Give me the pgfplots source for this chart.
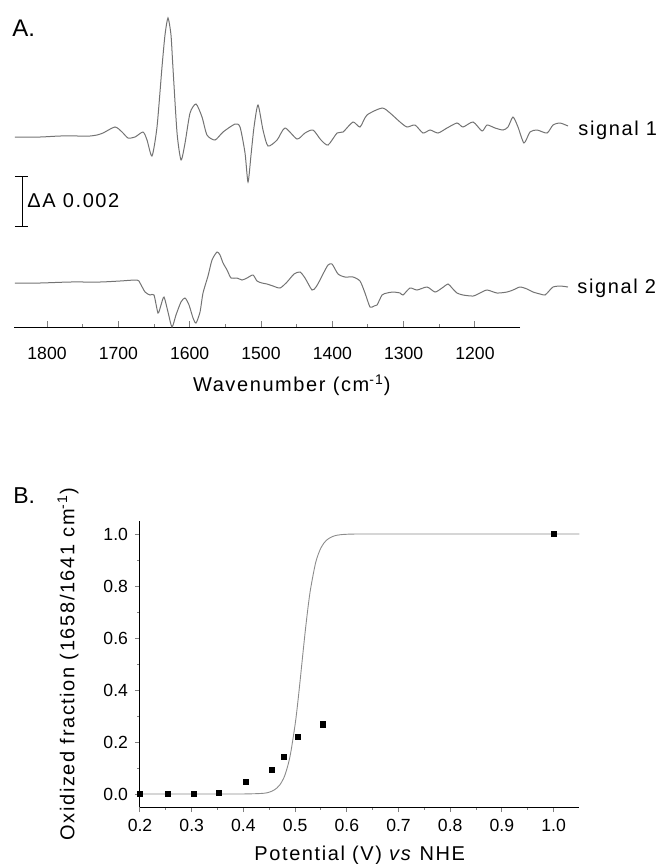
\documentclass[border=0pt]{standalone}
\usepackage{fontspec}
\setmainfont{Liberation Sans}
\newfontfamily\labelfont[LetterSpace=8]{Liberation Sans}
\usepackage{pgfplots}
\pgfplotsset{compat=1.18}
\usepackage{pgfplotstable}

% difference spectra: wavenumber, dA (units of 1e-3)
\pgfplotstableread{
wn dA
1844.9 0.00
1809.8 0.00
1781.8 0.04
1753.7 0.04
1739.7 0.04
1730.0 0.08
1721.5 0.16
1704.7 0.40
1694.8 0.20
1686.4 -0.04
1676.6 0.00
1665.4 0.20
1659.8 -0.12
1652.8 -0.76
1645.8 0.40
1638.8 2.80
1634.6 4.08
1630.4 4.76
1626.2 4.08
1623.5 2.80
1617.7 0.16
1612.1 -0.92
1606.5 -0.24
1599.5 0.96
1591.1 1.32
1582.7 0.80
1575.7 0.08
1564.5 -0.12
1553.2 0.20
1536.4 0.52
1529.4 0.40
1522.4 -0.64
1518.2 -1.80
1514.0 -0.72
1509.8 0.40
1504.2 1.28
1497.2 0.28
1490.2 -0.36
1477.5 -0.12
1466.3 0.36
1449.5 -0.08
1438.3 0.16
1427.1 0.28
1415.9 -0.12
1406.0 -0.32
1393.4 0.16
1385.0 0.20
1371.0 0.60
1361.2 0.40
1351.4 0.88
1330.3 1.16
1319.1 0.96
1305.1 0.60
1295.3 0.40
1284.1 0.48
1272.9 0.16
1263.0 0.28
1251.8 0.16
1239.2 0.36
1225.2 0.56
1216.8 0.40
1202.7 0.60
1190.1 0.24
1183.1 0.48
1171.9 0.36
1160.7 0.28
1153.7 0.40
1146.7 0.80
1139.7 0.40
1131.3 -0.24
1122.9 0.20
1113.0 0.28
1099.0 0.16
1090.6 0.48
1080.8 0.56
1069.6 0.44
}\sigone

\pgfplotstableread{
wn dA
1844.9 0.00
1809.8 0.00
1767.8 0.04
1725.7 0.04
1697.7 0.08
1673.8 0.12
1669.6 0.00
1662.6 -0.36
1655.6 -0.48
1650.0 -0.48
1644.4 -1.20
1640.2 -0.88
1636.0 -0.56
1630.4 -1.16
1624.8 -1.76
1619.2 -1.28
1612.2 -0.76
1606.5 -0.60
1600.9 -0.88
1595.3 -1.40
1591.1 -1.60
1585.5 -1.16
1581.3 -0.40
1574.3 0.28
1568.7 0.92
1561.7 1.24
1557.5 1.12
1553.2 0.80
1547.6 0.52
1542.0 0.20
1533.6 0.20
1526.6 0.12
1519.6 0.20
1511.2 0.32
1505.6 0.08
1498.6 0.00
1491.6 -0.04
1483.1 -0.12
1473.3 -0.20
1463.5 0.04
1453.7 0.36
1445.3 0.44
1438.3 0.20
1428.5 -0.28
1422.9 -0.16
1417.3 0.12
1411.6 0.44
1406.0 0.72
1400.4 0.76
1392.0 0.36
1382.2 0.24
1371.0 0.24
1361.2 0.08
1354.2 -0.40
1347.2 -0.96
1341.5 -0.92
1337.3 -0.88
1330.3 -0.48
1323.3 -0.40
1314.9 -0.36
1305.1 -0.40
1300.9 -0.48
1291.1 -0.20
1281.3 -0.28
1267.2 -0.16
1256.0 -0.36
1246.2 -0.20
1237.8 -0.04
1232.2 -0.20
1225.2 -0.40
1216.8 -0.48
1202.7 -0.52
1192.9 -0.40
1183.1 -0.28
1169.1 -0.40
1155.1 -0.36
1146.7 -0.28
1136.9 -0.16
1127.0 -0.24
1118.6 -0.36
1108.8 -0.44
1101.8 -0.48
1096.2 -0.32
1090.6 -0.16
1080.8 -0.12
1069.6 -0.16
}\sigtwo

\begin{document}
\begin{tikzpicture}[x=1pt,y=1pt]
\path[use as bounding box] (0,0) rectangle (329.5,-432);

% panel A
\node[anchor=north west, inner sep=0pt, font=\fontsize{12}{14}\selectfont] at (6,-10) {A.};
\begin{axis}[
    at={(7pt,-163.5pt)}, anchor=south west,
    scale only axis, width=253pt, height=161pt,
    xmin=1136.9, xmax=1846.3, x dir=reverse,
    ymin=0, ymax=12.88,
    axis x line=bottom, axis y line=none,
    axis line style={-, line width=0.5pt},
    clip=false,
    xtick={1200,1300,1400,1500,1600,1700,1800},
    minor x tick num=1,
    tick align=inside,
    major tick length=3pt, minor tick length=1.5pt,
    tick style={line width=0.5pt},
    /pgf/number format/assume math mode=true,
    /pgf/number format/set thousands separator={},
    xticklabel style={font=\fontsize{8.8}{10}\selectfont, yshift=-6.5pt},
    xlabel={\labelfont Wavenumber (cm\textsuperscript{-1})},
    xlabel style={at={(axis description cs:0.549,-0.18)}, anchor=center, font=\fontsize{10}{12}\selectfont},
]
\addplot[black!55, line width=0.5pt, smooth, tension=0.4] table[x=wn, y expr=\thisrow{dA}+7.6] {\sigone};
\addplot[black!55, line width=0.5pt, smooth, tension=0.4] table[x=wn, y expr=\thisrow{dA}+1.76] {\sigtwo};
% scale bar
\draw[line width=0.5pt] (axis cs:1835,4.04) -- (axis cs:1835,6.04);
\draw[line width=0.5pt] (axis cs:1844.9,4.04) -- (axis cs:1826.6,4.04);
\draw[line width=0.5pt] (axis cs:1844.9,6.04) -- (axis cs:1826.6,6.04);
\node[anchor=base west, inner sep=0pt, font=\fontsize{10}{12}\selectfont\labelfont] at (axis cs:1828,4.8) {ΔA 0.002};
\node[anchor=base west, inner sep=0pt, font=\fontsize{10}{12}\selectfont\labelfont] at (axis cs:1055.5,7.68) {signal 1};
\node[anchor=base west, inner sep=0pt, font=\fontsize{10}{12}\selectfont\labelfont] at (axis cs:1056.9,1.36) {signal 2};
\end{axis}

% panel B
\node[anchor=north west, inner sep=0pt, font=\fontsize{11.5}{14}\selectfont] at (6.5,-243.5) {B.};
\begin{axis}[
    at={(70pt,-403.5pt)}, anchor=south west,
    scale only axis, width=219.75pt, height=143pt,
    xmin=0.2, xmax=1.05, ymin=-0.05, ymax=1.05,
    axis x line=bottom, axis y line=left,
    axis line style={-, line width=0.5pt},
    xtick={0.2,0.3,0.4,0.5,0.6,0.7,0.8,0.9,1.0},
    ytick={0,0.2,0.4,0.6,0.8,1.0},
    minor x tick num=1, minor y tick num=1,
    tick align=outside,
    major tick length=2.5pt, minor tick length=1.3pt,
    tick style={line width=0.5pt},
    /pgf/number format/assume math mode=true,
    /pgf/number format/fixed, /pgf/number format/fixed zerofill,
    /pgf/number format/precision=1,
    tick label style={font=\fontsize{8.8}{10}\selectfont},
    xlabel={\labelfont Potential (V) \textit{vs} NHE},
    xlabel style={at={(axis description cs:0.5,-0.168)}, anchor=center, font=\fontsize{10}{12}\selectfont},
    ylabel={\labelfont Oxidized fraction (1658/1641 cm\textsuperscript{-1})},
    ylabel style={at={(axis description cs:-0.164,0.5)}, anchor=center, font=\fontsize{10}{12}\selectfont},
]
% Nernst fit
\addplot[black!45, line width=0.45pt, smooth] table {
0.20 0.000
0.38 0.000
0.42 0.001
0.44 0.003
0.45 0.007
0.46 0.016
0.47 0.034
0.48 0.071
0.49 0.143
0.50 0.267
0.505 0.349
0.51 0.442
0.515 0.539
0.52 0.633
0.525 0.718
0.53 0.790
0.54 0.892
0.55 0.947
0.56 0.975
0.57 0.988
0.58 0.995
0.60 0.999
0.65 1.000
1.05 1.000
};
\addplot[only marks, mark=square*, mark size=1.3pt, black] table {
0.200 0.000
0.254 0.000
0.304 0.000
0.353 0.005
0.405 0.046
0.455 0.092
0.479 0.142
0.505 0.219
0.554 0.268
1.000 1.000
};
\end{axis}
\end{tikzpicture}
\end{document}
